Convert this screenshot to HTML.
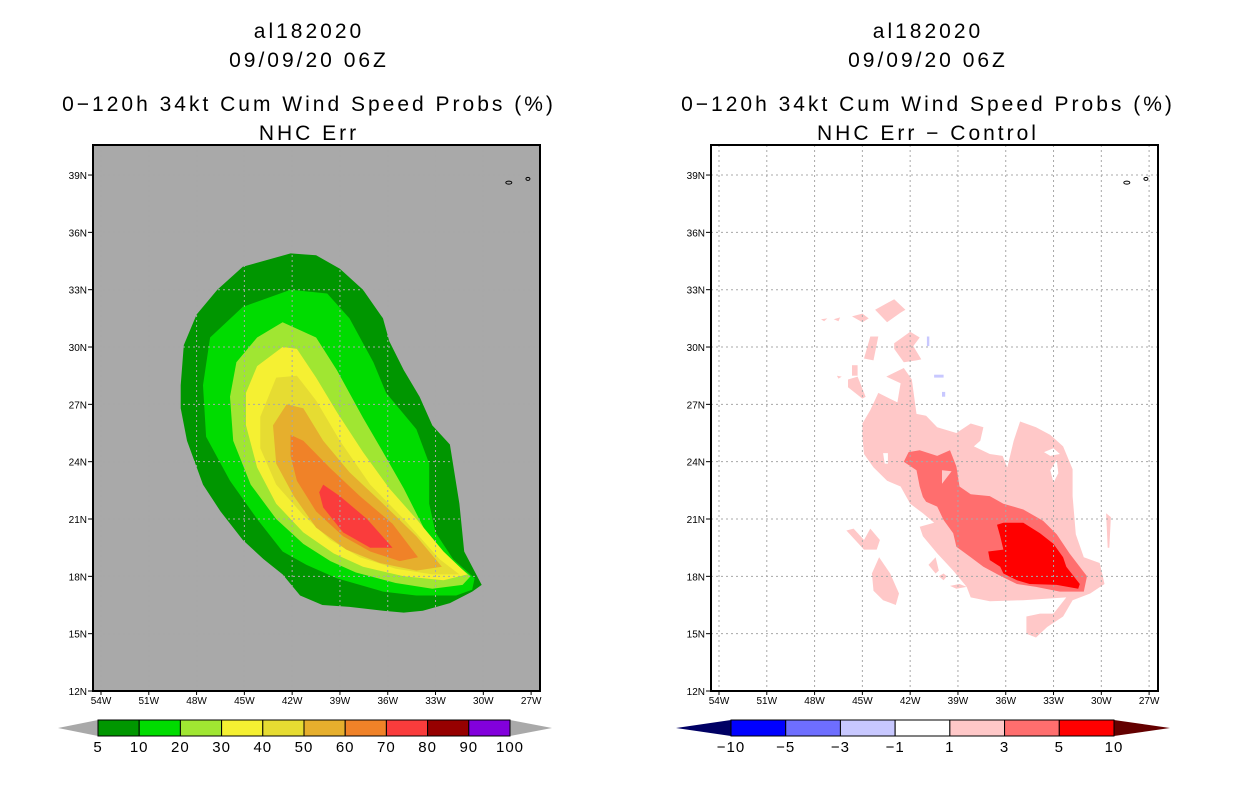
<!DOCTYPE html>
<html><head><meta charset="utf-8"><style>
html,body{margin:0;padding:0;background:#fff;}
svg{display:block;font-family:"Liberation Sans",sans-serif;}
.t{font-size:21px;fill:#000;text-anchor:middle;letter-spacing:3px;}
.ax{font-size:10px;fill:#000;}
.cb{font-size:15px;fill:#000;text-anchor:middle;letter-spacing:1px;}
</style></head><body>
<svg id="svg" width="1236" height="800" viewBox="0 0 1236 800">
<g>
<text class="t" x="309" y="38">al182020</text>
<text class="t" x="309" y="67">09/09/20 06Z</text>
<text class="t" x="309" y="111">0−120h 34kt Cum Wind Speed Probs (%)</text>
<text class="t" x="309" y="140">NHC Err</text>
</g>
<g>
<text class="t" x="928" y="38">al182020</text>
<text class="t" x="928" y="67">09/09/20 06Z</text>
<text class="t" x="928" y="111">0−120h 34kt Cum Wind Speed Probs (%)</text>
<text class="t" x="928" y="140">NHC Err − Control</text>
</g>
<g id="left"></g>
<g id="right"></g>
<g id="cbl"></g>
<g id="cbr"></g>
</svg>
<script>
// ---- data ----
const latTicks=[12,15,18,21,24,27,30,33,36,39];
const lonTicks=[54,51,48,45,42,39,36,33,30,27];
const probLevels=[5,10,20,30,40,50,60,70,80,90,100];
const probColors=['#009600','#00dc00','#a0e632','#f5f032','#e6dc32','#e6af2d','#f08228','#fa3c3c','#960000','#8200dc'];
const diffLevels=[-10,-5,-3,-1,1,3,5,10];
const diffColors=['#0000ff','#6e6eff','#c8c8ff','#ffffff','#ffc8c8','#ff6e6e','#ff0000'];
// left contours: [lonW, lat]
const p5=[[49.0,28.0],[48.8,30.1],[48.0,31.7],[46.7,33.0],[45.1,34.2],[42.1,34.9],[40.5,34.8],[39.0,34.1],[37.55,33.0],[36.3,31.5],[35.9,30.3],[35.0,28.8],[34.0,27.4],[33.2,25.9],[32.1,24.9],[31.5,21.8],[31.2,19.3],[30.7,18.5],[30.1,17.55],[30.7,17.2],[32.1,16.6],[33.8,16.2],[35.0,16.1],[36.3,16.2],[38.4,16.4],[40.1,16.5],[41.5,17.0],[42.6,18.1],[43.8,18.9],[45.1,19.9],[46.5,21.4],[47.6,22.8],[48.6,25.1],[49.0,26.8]];
const p10=[[47.6,28.0],[47.15,30.5],[45.1,32.1],[42.1,33.0],[39.8,32.8],[38.4,31.5],[36.9,29.2],[36.1,27.6],[34.2,25.7],[33.4,23.9],[33.4,21.8],[33.0,20.3],[31.9,18.9],[30.55,17.9],[30.7,17.3],[31.7,17.0],[34.2,17.0],[36.3,17.2],[39.2,17.9],[41.1,18.6],[42.6,19.3],[44.2,21.0],[45.9,23.0],[47.4,25.3]];
const p20=[[45.9,27.4],[45.5,29.2],[44.2,30.5],[42.6,31.3],[40.5,30.5],[39.2,28.8],[37.55,26.3],[36.3,24.5],[35.0,22.6],[33.6,20.3],[32.1,18.9],[30.8,18.0],[31.3,17.55],[33.2,17.35],[35.5,17.65],[38.0,18.2],[39.6,18.8],[41.3,19.7],[43.0,21.0],[44.6,22.8],[45.7,25.1]];
const p30=[[44.9,27.6],[44.2,29.0],[42.6,30.0],[41.7,29.9],[40.5,28.4],[39.2,26.6],[37.55,24.5],[35.9,22.6],[34.2,21.0],[32.5,19.3],[31.0,18.1],[32.5,17.8],[35.0,18.0],[37.55,18.5],[39.4,19.2],[41.3,20.3],[43.0,21.8],[44.2,23.7],[44.9,25.9]];
const p40=[[44.0,26.35],[43.0,28.4],[41.7,28.5],[40.5,27.2],[39.0,25.1],[37.1,22.8],[35.0,21.0],[32.75,18.9],[31.5,18.1],[33.2,18.1],[35.5,18.4],[37.75,19.0],[39.6,19.9],[41.3,21.2],[43.0,22.8],[44.0,24.7]];
const p50=[[43.2,25.9],[42.35,27.0],[41.3,26.8],[40.05,25.1],[38.4,23.45],[36.3,21.8],[34.2,20.1],[32.6,18.5],[34.2,18.3],[36.5,18.7],[38.6,19.4],[40.5,20.55],[41.9,22.2],[43.0,23.9]];
const p60=[[42.1,25.4],[41.3,25.1],[39.6,23.65],[37.75,22.2],[35.7,20.75],[34.1,19.0],[35.25,18.8],[37.1,19.3],[38.8,20.1],[40.5,21.4],[41.7,23.0],[42.1,24.3]];
const p70=[[40.05,22.8],[39.0,22.2],[37.3,21.0],[35.7,19.5],[37.1,19.5],[38.8,20.3],[40.05,21.6],[40.3,22.4]];
const probContours=[p5,p10,p20,p30,p40,p50,p60,p70];
// right contours
const d1main=[[45.0,26.0],[44.5,26.7],[44.0,27.6],[42.8,27.1],[42.6,28.1],[43.5,28.45],[42.4,28.9],[41.9,28.3],[41.6,26.5],[41.0,26.4],[40.3,25.8],[39.1,25.5],[38.2,26.0],[37.4,25.8],[37.6,25.1],[38.0,24.8],[37.0,24.4],[36.2,24.3],[35.9,23.7],[35.5,25.1],[35.1,26.1],[34.1,25.8],[33.2,25.4],[32.4,24.8],[31.8,23.6],[31.8,22.2],[31.6,20.2],[31.1,19.0],[30.1,18.7],[29.8,17.6],[30.7,17.1],[31.8,16.75],[32.4,15.9],[33.4,15.35],[34.1,14.8],[34.7,15.0],[34.7,15.9],[33.85,16.05],[33.0,16.05],[32.2,16.9],[34.9,16.75],[37.0,16.7],[38.2,16.9],[38.45,17.45],[39.3,18.3],[40.3,19.2],[41.2,20.1],[41.4,20.6],[40.5,20.8],[41.2,21.3],[42.0,21.8],[42.6,22.7],[43.45,23.0],[44.3,23.7],[44.9,24.4],[45.0,25.3]];
const d1isl=[
[[44.2,31.95],[43.0,32.5],[42.3,31.95],[42.6,31.8],[43.45,31.3]],
[[45.65,31.6],[45.0,31.75],[44.6,31.5],[45.0,31.3]],
[[47.6,31.45],[47.2,31.5],[47.4,31.35]],
[[46.8,31.45],[46.4,31.55],[46.5,31.35]],
[[44.5,30.55],[44.0,30.55],[44.3,29.3],[44.9,29.4]],
[[43.0,30.2],[42.0,30.8],[41.4,30.5],[41.8,30.05],[41.3,29.35],[41.6,29.3],[42.4,29.2],[43.0,29.9]],
[[45.9,28.3],[45.3,28.45],[44.8,27.4],[45.0,27.3],[45.9,27.9]],
[[45.65,29.05],[45.3,29.05],[45.3,28.5],[45.65,28.5]],
[[46.0,20.4],[45.55,20.5],[44.9,19.9],[44.5,20.5],[43.9,19.9],[44.1,19.4],[44.9,19.4]],
[[44.4,18.15],[43.95,19.0],[43.25,18.15],[42.7,17.1],[42.9,16.5],[43.7,16.75],[44.3,17.25]],
[[40.85,18.6],[40.4,19.0],[40.2,18.3],[40.4,18.15]],
[[40.2,18.0],[39.9,18.15],[39.7,18.0],[39.9,17.8]],
[[39.5,17.5],[38.9,17.6],[38.45,17.45],[39.1,17.35]],
[[29.7,21.3],[29.4,21.1],[29.5,19.5],[29.6,19.5]],
[[46.6,28.5],[46.3,28.45],[46.5,28.35]]];
const dHoles=[[[43.7,24.45],[43.4,24.45],[43.4,23.9],[43.6,23.9]],[[33.2,23.55],[32.8,24.1],[32.7,23.4],[33.0,22.9]],[[33.6,24.5],[33.0,24.7],[32.6,24.4],[33.2,24.3]]];
const dNeg=[[[40.95,30.55],[40.8,30.55],[40.8,30.05],[40.95,30.05]],[[40.5,28.55],[39.9,28.55],[39.9,28.4],[40.5,28.4]],[[40.0,27.65],[39.8,27.65],[39.8,27.4],[40.0,27.4]]];
const d3=[[42.4,24.0],[42.1,24.5],[41.4,24.6],[40.3,24.3],[39.5,24.6],[39.1,23.75],[38.9,22.7],[38.2,22.3],[37.0,22.2],[36.15,21.8],[34.9,21.5],[33.65,20.9],[32.8,20.2],[32.0,19.2],[30.9,18.0],[31.1,17.2],[32.6,17.2],[34.1,17.45],[35.3,17.6],[36.4,18.05],[37.4,18.5],[38.2,19.0],[39.1,19.55],[39.3,20.25],[39.9,20.95],[40.3,21.65],[41.0,21.9],[41.2,22.15],[41.4,22.7],[41.6,23.55]];
const d3hole=[[40.0,23.55],[39.4,23.5],[40.0,22.85]];
const d5=[[36.55,20.7],[36.15,20.8],[34.9,20.8],[33.85,20.25],[33.0,19.7],[32.4,19.0],[32.2,18.5],[31.35,17.6],[31.45,17.35],[32.8,17.55],[34.5,17.6],[35.3,17.8],[36.15,18.15],[36.35,18.5],[37.0,18.85],[37.1,19.3],[36.15,19.4],[36.35,20.1]];

const NS='http://www.w3.org/2000/svg';
function mk(tag,parent,attrs){const e=document.createElementNS(NS,tag);for(const k in attrs)e.setAttribute(k,attrs[k]);parent.appendChild(e);return e;}
function panel(gid,x0,bg,drawFn){
  const g=document.getElementById(gid);
  const L=x0, R=x0+447, T=145, B=691;
  const X=lw=>x0+8+(54-lw)*15.93;
  const Y=lat=>691-(lat-12)*19.11;
  const clipId=gid+'clip';
  const defs=mk('defs',g,{});const cp=mk('clipPath',defs,{id:clipId});mk('rect',cp,{x:L,y:T,width:R-L,height:B-T});
  const bgr=mk('rect',g,{x:L,y:T,width:R-L,height:B-T,fill:bg});
  
  
  const cg=mk('g',g,{'clip-path':'url(#'+clipId+')'});
  const poly=(pts,fill,name)=>{const p=mk('polygon',cg,{points:pts.map(q=>X(q[0]).toFixed(1)+','+Y(q[1]).toFixed(1)).join(' '),fill:fill});
    
    return p;};
  drawFn(poly);
  const gg=mk('g',cg,{stroke:'#a8a8a8','stroke-width':1,'stroke-dasharray':'2,3'});
  
  
  lonTicks.forEach(l=>mk('line',gg,{x1:X(l),x2:X(l),y1:T,y2:B}));
  latTicks.forEach(l=>mk('line',gg,{x1:L,x2:R,y1:Y(l),y2:Y(l)}));
  const isl=mk('g',cg,{fill:'none',stroke:'#000','stroke-width':1});
  
  
  mk('ellipse',isl,{cx:X(28.4),cy:Y(38.6),rx:3,ry:1.5});
  mk('ellipse',isl,{cx:X(27.2),cy:Y(38.8),rx:2,ry:1.5});
  const fr=mk('rect',g,{x:L,y:T,width:R-L,height:B-T,fill:'none',stroke:'#000','stroke-width':2});
  
  
  const ya=mk('g',g,{});
  
  
  latTicks.forEach(l=>{mk('line',ya,{x1:L-5,x2:L,y1:Y(l),y2:Y(l),stroke:'#000'});
    const t=mk('text',ya,{class:'ax',x:L-6,y:Y(l)+4,'text-anchor':'end'});t.textContent=l+'N';});
  const xa=mk('g',g,{});
  
  
  lonTicks.forEach(l=>{mk('line',xa,{x1:X(l),x2:X(l),y1:B,y2:B+4,stroke:'#000'});
    const t=mk('text',xa,{class:'ax',x:X(l),y:B+13,'text-anchor':'middle'});t.textContent=l+'W';});
}
panel('left',93,'#a9a9a9',poly=>{probContours.forEach((c,i)=>poly(c,probColors[i],'prob-contour-'+probLevels[i]));});
panel('right',711,'#ffffff',poly=>{
  poly(d1main,diffColors[4],'diff-contour-1-main');
  d1isl.forEach((c,i)=>poly(c,diffColors[4],'diff-contour-1-patch'));
  dHoles.forEach(c=>poly(c,'#ffffff','diff-hole'));
  dNeg.forEach(c=>poly(c,diffColors[2],'diff-contour-neg1'));
  poly(d3,diffColors[5],'diff-contour-3');
  poly(d3hole,diffColors[4],'diff-contour-3-hole');
  poly(d5,diffColors[6],'diff-contour-5');
});
function colorbar(gid,x0,x1,tipL,tipR,levels,colors,lcol,rcol){
  const g=document.getElementById(gid);const y0=720,y1=736,ym=(y0+y1)/2;
  const w=(x1-x0)/colors.length;
  const tl=mk('polygon',g,{points:`${x0},${y0} ${tipL},${ym} ${x0},${y1}`,fill:lcol});
  
  
  const tr=mk('polygon',g,{points:`${x1},${y0} ${tipR},${ym} ${x1},${y1}`,fill:rcol});
  
  
  colors.forEach((c,i)=>{const r=mk('rect',g,{x:x0+i*w,y:y0,width:w,height:y1-y0,fill:c,stroke:'#000','stroke-width':1});
    
    });
  levels.forEach((v,i)=>{const t=mk('text',g,{class:'cb',x:x0+i*w,y:752});t.textContent=String(v).replace('-','−');
    
    });
}
colorbar('cbl',98,510,58,552,probLevels,probColors,'#a9a9a9','#a9a9a9');
colorbar('cbr',731,1114,676,1170,diffLevels,diffColors,'#000064','#640000');
</script>
</body></html>
